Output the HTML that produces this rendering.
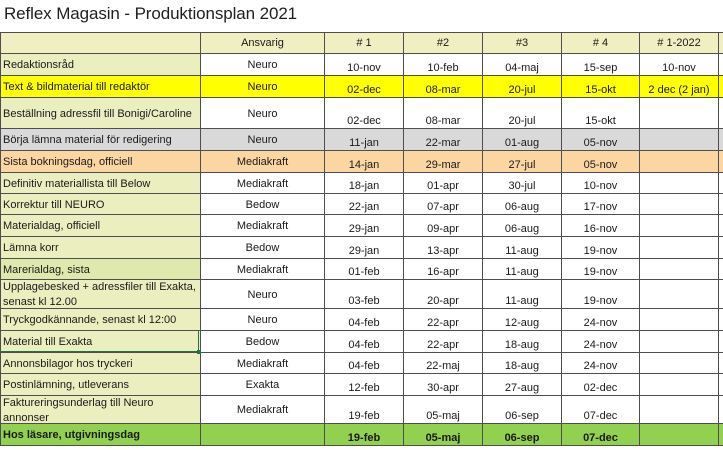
<!DOCTYPE html>
<html><head><meta charset="utf-8"><style>
html,body{margin:0;padding:0;width:723px;height:450px;overflow:hidden;background:#fff;}
body{position:relative;font-family:"Liberation Sans",sans-serif;color:#1a1a1a;}
.title{position:absolute;left:4px;top:4px;font-size:17px;letter-spacing:-0.1px;color:#1e1e1e;white-space:nowrap;}
.grid{position:absolute;left:0;top:32px;width:759px;display:grid;padding:1px;gap:1px;background:#4e4e4e;
grid-template-columns:199px 123px 78px 78px 78px 77px 78px 40px;
grid-template-rows:20px 21px 21px 30px 21px 21px 20px 20px 21px 21px 20px 28px 21px 21px 20px 21px 27px 21px;}
.grid>div{display:flex;font-size:11px;white-space:nowrap;overflow:hidden;background:#fff;line-height:13px;box-sizing:border-box;}
.f{background:#ebeebf!important;justify-content:flex-start;align-items:center;padding-left:2px;padding-top:2px;}
.h{background:#efefc2!important;justify-content:center;align-items:center;}
.a{justify-content:center;align-items:center;padding-top:2px;}
.d{justify-content:center;align-items:flex-end;padding-bottom:0px;}
.y{background:#ffff00!important;}
.g{background:#d9d9d9!important;}
.o{background:#fbd5a2!important;}
.gr{background:#92d050!important;font-weight:bold;}
.m{background:#e0e9ad!important;}
.t2{flex-direction:column;align-items:flex-start!important;justify-content:center!important;line-height:15px!important;}
.sel{position:absolute;left:0;top:330px;width:199px;height:22px;border:1px solid #217346;box-sizing:border-box;border-left:none;border-top:none;}
.hdl{position:absolute;left:197px;top:350px;width:4px;height:4px;background:#217346;}
</style></head><body>
<div class="title">Reflex Magasin - Produktionsplan 2021</div>
<div class="grid">
<div class="h"></div><div class="h">Ansvarig</div><div class="h"># 1</div><div class="h">#2</div><div class="h">#3</div><div class="h"># 4</div><div class="h"># 1-2022</div><div class="h"></div>

<div class="f">Redaktionsråd</div><div class="a">Neuro</div><div class="d">10-nov</div><div class="d">10-feb</div><div class="d">04-maj</div><div class="d">15-sep</div><div class="d">10-nov</div><div></div>

<div class="f y">Text &amp; bildmaterial till redaktör</div><div class="a y">Neuro</div><div class="d y">02-dec</div><div class="d y">08-mar</div><div class="d y">20-jul</div><div class="d y">15-okt</div><div class="d y">2 dec (2 jan)</div><div class="y"></div>

<div class="f">Beställning adressfil till Bonigi/Caroline</div><div class="a">Neuro</div><div class="d">02-dec</div><div class="d">08-mar</div><div class="d">20-jul</div><div class="d">15-okt</div><div></div><div></div>

<div class="f g">Börja lämna material för redigering</div><div class="a g">Neuro</div><div class="d g">11-jan</div><div class="d g">22-mar</div><div class="d g">01-aug</div><div class="d g">05-nov</div><div class="g"></div><div class="g"></div>

<div class="f o">Sista bokningsdag, officiell</div><div class="a o">Mediakraft</div><div class="d o">14-jan</div><div class="d o">29-mar</div><div class="d o">27-jul</div><div class="d o">05-nov</div><div class="o"></div><div class="o"></div>

<div class="f">Definitiv materiallista till Below</div><div class="a">Mediakraft</div><div class="d">18-jan</div><div class="d">01-apr</div><div class="d">30-jul</div><div class="d">10-nov</div><div></div><div></div>

<div class="f">Korrektur till NEURO</div><div class="a">Bedow</div><div class="d">22-jan</div><div class="d">07-apr</div><div class="d">06-aug</div><div class="d">17-nov</div><div></div><div></div>

<div class="f">Materialdag, officiell</div><div class="a">Mediakraft</div><div class="d">29-jan</div><div class="d">09-apr</div><div class="d">06-aug</div><div class="d">16-nov</div><div></div><div></div>

<div class="f">Lämna korr</div><div class="a">Bedow</div><div class="d">29-jan</div><div class="d">13-apr</div><div class="d">11-aug</div><div class="d">19-nov</div><div></div><div></div>

<div class="f m">Marerialdag, sista</div><div class="a">Mediakraft</div><div class="d">01-feb</div><div class="d">16-apr</div><div class="d">11-aug</div><div class="d">19-nov</div><div></div><div></div>

<div class="f t2"><span>Upplagebesked + adressfiler till Exakta,</span><span>senast kl 12.00</span></div><div class="a">Neuro</div><div class="d">03-feb</div><div class="d">20-apr</div><div class="d">11-aug</div><div class="d">19-nov</div><div></div><div></div>

<div class="f">Tryckgodkännande, senast kl 12:00</div><div class="a">Neuro</div><div class="d">04-feb</div><div class="d">22-apr</div><div class="d">12-aug</div><div class="d">24-nov</div><div></div><div></div>

<div class="f">Material till Exakta</div><div class="a">Bedow</div><div class="d">04-feb</div><div class="d">22-apr</div><div class="d">18-aug</div><div class="d">24-nov</div><div></div><div></div>

<div class="f">Annonsbilagor hos tryckeri</div><div class="a">Mediakraft</div><div class="d">04-feb</div><div class="d">22-maj</div><div class="d">18-aug</div><div class="d">24-nov</div><div></div><div></div>

<div class="f">Postinlämning, utleverans</div><div class="a">Exakta</div><div class="d">12-feb</div><div class="d">30-apr</div><div class="d">27-aug</div><div class="d">02-dec</div><div></div><div></div>

<div class="f t2"><span>Faktureringsunderlag till Neuro</span><span>annonser</span></div><div class="a">Mediakraft</div><div class="d">19-feb</div><div class="d">05-maj</div><div class="d">06-sep</div><div class="d">07-dec</div><div></div><div></div>

<div class="f gr">Hos läsare, utgivningsdag</div><div class="a gr"></div><div class="d gr">19-feb</div><div class="d gr">05-maj</div><div class="d gr">06-sep</div><div class="d gr">07-dec</div><div class="gr"></div><div class="gr"></div>
</div>
<div class="sel"></div><div class="hdl"></div>
</body></html>
